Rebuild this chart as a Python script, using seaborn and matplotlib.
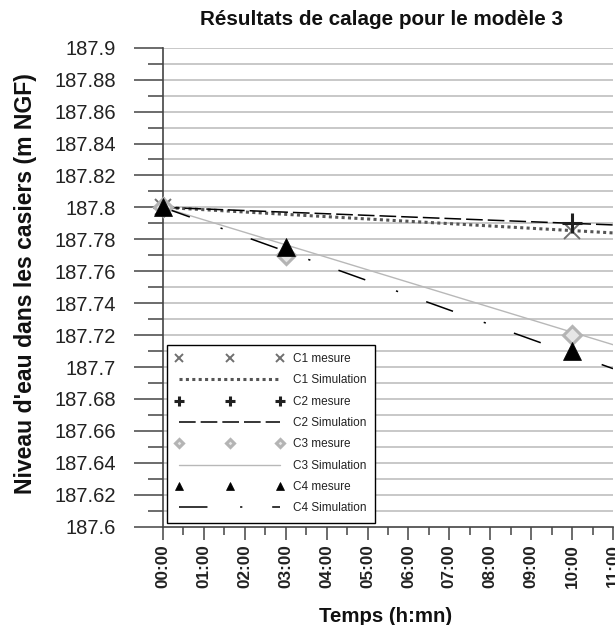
import matplotlib
matplotlib.use("Agg")
import matplotlib.pyplot as plt
import seaborn as sns
import numpy as np
import pandas as pd
from matplotlib.ticker import MultipleLocator, FixedLocator

# ---- data (hours, m NGF) ----
mes_c1_t = [0, 10]
mes_c1_y = [187.8, 187.785]
mes_c2_t = [0, 10]
mes_c2_y = [187.8, 187.79]
mes_c3_t = [0, 3, 10]
mes_c3_y = [187.8, 187.77, 187.72]
mes_c4_t = [0, 3, 10]
mes_c4_y = [187.8, 187.775, 187.71]

sim_t = [0, 11]
sim_c1_y = [187.8, 187.784]
sim_c2_y = [187.8, 187.789]
sim_c3_y = [187.8, 187.714]
sim_c4_y = [187.8, 187.699]

x_tick_labels = ["00:00", "01:00", "02:00", "03:00", "04:00", "05:00",
                 "06:00", "07:00", "08:00", "09:00", "10:00", "11:00"]
y_tick_values = [187.6, 187.62, 187.64, 187.66, 187.68, 187.7, 187.72, 187.74,
                 187.76, 187.78, 187.8, 187.82, 187.84, 187.86, 187.88, 187.9]

title = "Résultats de calage pour le modèle 3"
xlabel = "Temps (h:mn)"
ylabel = "Niveau d'eau dans les casiers (m NGF)"

sns.set_theme(style="white")
plt.rcParams["font.family"] = ["Liberation Sans", "DejaVu Sans"]
plt.rcParams["lines.scale_dashes"] = False

fig = plt.figure(figsize=(6.15, 6.25), dpi=100)
ax = fig.add_axes([163 / 615, 1 - 526.7 / 625, 450 / 615, 479 / 625])

# horizontal grid every 0.01
for gy in np.arange(187.61, 187.905, 0.01):
    ax.axhline(gy, color="#c8c8c8", lw=1.4, zorder=0)

# simulations
sns.lineplot(x=sim_t, y=sim_c1_y, ax=ax, color="#555555", lw=2.2, zorder=3)
h_c1s = ax.lines[-1]
h_c1s.set_linestyle((0, (2.2, 2.4)))

sns.lineplot(x=sim_t, y=sim_c2_y, ax=ax, color="black", lw=1.1, zorder=3)
h_c2s = ax.lines[-1]
h_c2s.set_linestyle((0, (12, 3.6)))

sns.lineplot(x=sim_t, y=sim_c3_y, ax=ax, color="#b8b8b8", lw=1.0, zorder=2)
h_c3s = ax.lines[-1]

sns.lineplot(x=sim_t, y=sim_c4_y, ax=ax, color="black", lw=1.1, zorder=3)
h_c4s = ax.lines[-1]
h_c4s.set_linestyle((0, (20.5, 23.5, 1.6, 21.5)))

# measures
sns.lineplot(x=mes_c1_t, y=mes_c1_y, ax=ax, color="#707070", linestyle="",
             marker="x", markersize=12, markeredgewidth=1.4,
             markeredgecolor="#707070", zorder=4, clip_on=False)
h_c1m = ax.lines[-1]
sns.lineplot(x=mes_c2_t, y=mes_c2_y, ax=ax, color="#202020", linestyle="",
             marker="+", markersize=15, markeredgewidth=2.2,
             markeredgecolor="#202020", zorder=5, clip_on=False)
h_c2m = ax.lines[-1]
sns.lineplot(x=mes_c3_t, y=mes_c3_y, ax=ax, color="#c4c4c4", linestyle="",
             marker="D", markersize=9, markeredgewidth=2.2,
             markerfacecolor="#e6e6e6", markeredgecolor="#b4b4b4", zorder=5,
             clip_on=False)
h_c3m = ax.lines[-1]
sns.lineplot(x=mes_c4_t, y=mes_c4_y, ax=ax, color="black", linestyle="",
             marker="^", markersize=12.5, markeredgecolor="black",
             markeredgewidth=0.5, zorder=6, clip_on=False)
h_c4m = ax.lines[-1]

ax.set_xlim(0, 11)
ax.set_ylim(187.6, 187.9)

ax.xaxis.set_major_locator(FixedLocator(list(range(len(x_tick_labels)))))
ax.set_xticklabels(x_tick_labels, rotation=90, fontsize=12.3, fontweight="bold",
                   color="#222222")
ax.xaxis.set_minor_locator(MultipleLocator(0.5))
ax.yaxis.set_major_locator(FixedLocator(y_tick_values))
ax.set_yticklabels([f"{v:g}" for v in y_tick_values], fontsize=14.5, color="#222222")
ax.yaxis.set_minor_locator(MultipleLocator(0.01))

ax.tick_params(axis="y", which="major", direction="out", length=21, width=1.1,
               color="#444444", left=True, pad=13)
ax.tick_params(axis="y", which="minor", direction="out", length=10.8, width=1.1,
               color="#444444", left=True)
ax.tick_params(axis="x", which="major", direction="out", length=9.4, width=1.1,
               color="#444444", bottom=True, pad=3)
ax.tick_params(axis="x", which="minor", direction="out", length=5.8, width=1.1,
               color="#444444", bottom=True)

for s in ["top", "right"]:
    ax.spines[s].set_visible(False)
for s in ["left", "bottom"]:
    ax.spines[s].set_color("#444444")
    ax.spines[s].set_linewidth(1.2)

ax.set_xlabel("")
ax.set_ylabel("")
fig.text(382 / 615, 1 - 25 / 625, title, ha="center", va="baseline",
         fontsize=14.9, fontweight="bold", color="#111111")
fig.text(386 / 615, 1 - 622.5 / 625, xlabel, ha="center", va="baseline",
         fontsize=14.7, fontweight="bold", color="#111111")
fig.text(25.5 / 615, 1 - 283.5 / 625, ylabel, ha="center", va="center",
         rotation=90, fontsize=16.6, fontweight="bold", color="#111111")

handles = [h_c1m, h_c1s, h_c2m, h_c2s, h_c3m, h_c3s, h_c4m, h_c4s]
labels = ["C1 mesure", "C1 Simulation", "C2 mesure", "C2 Simulation",
          "C3 mesure", "C3 Simulation", "C4 mesure", "C4 Simulation"]
leg = ax.legend(handles, labels, loc="lower left",
                bbox_to_anchor=(4 / 450, 4 / 479), borderaxespad=0,
                fontsize=8.5, numpoints=3, markerscale=0.5, handlelength=9.2,
                handletextpad=0.8, labelspacing=0.79, borderpad=0.7,
                frameon=True, fancybox=False, framealpha=1,
                edgecolor="black")
leg.get_frame().set_linewidth(1.0)
for t in leg.get_texts():
    t.set_color("#222222")

fig.savefig("out.png", dpi=100)
